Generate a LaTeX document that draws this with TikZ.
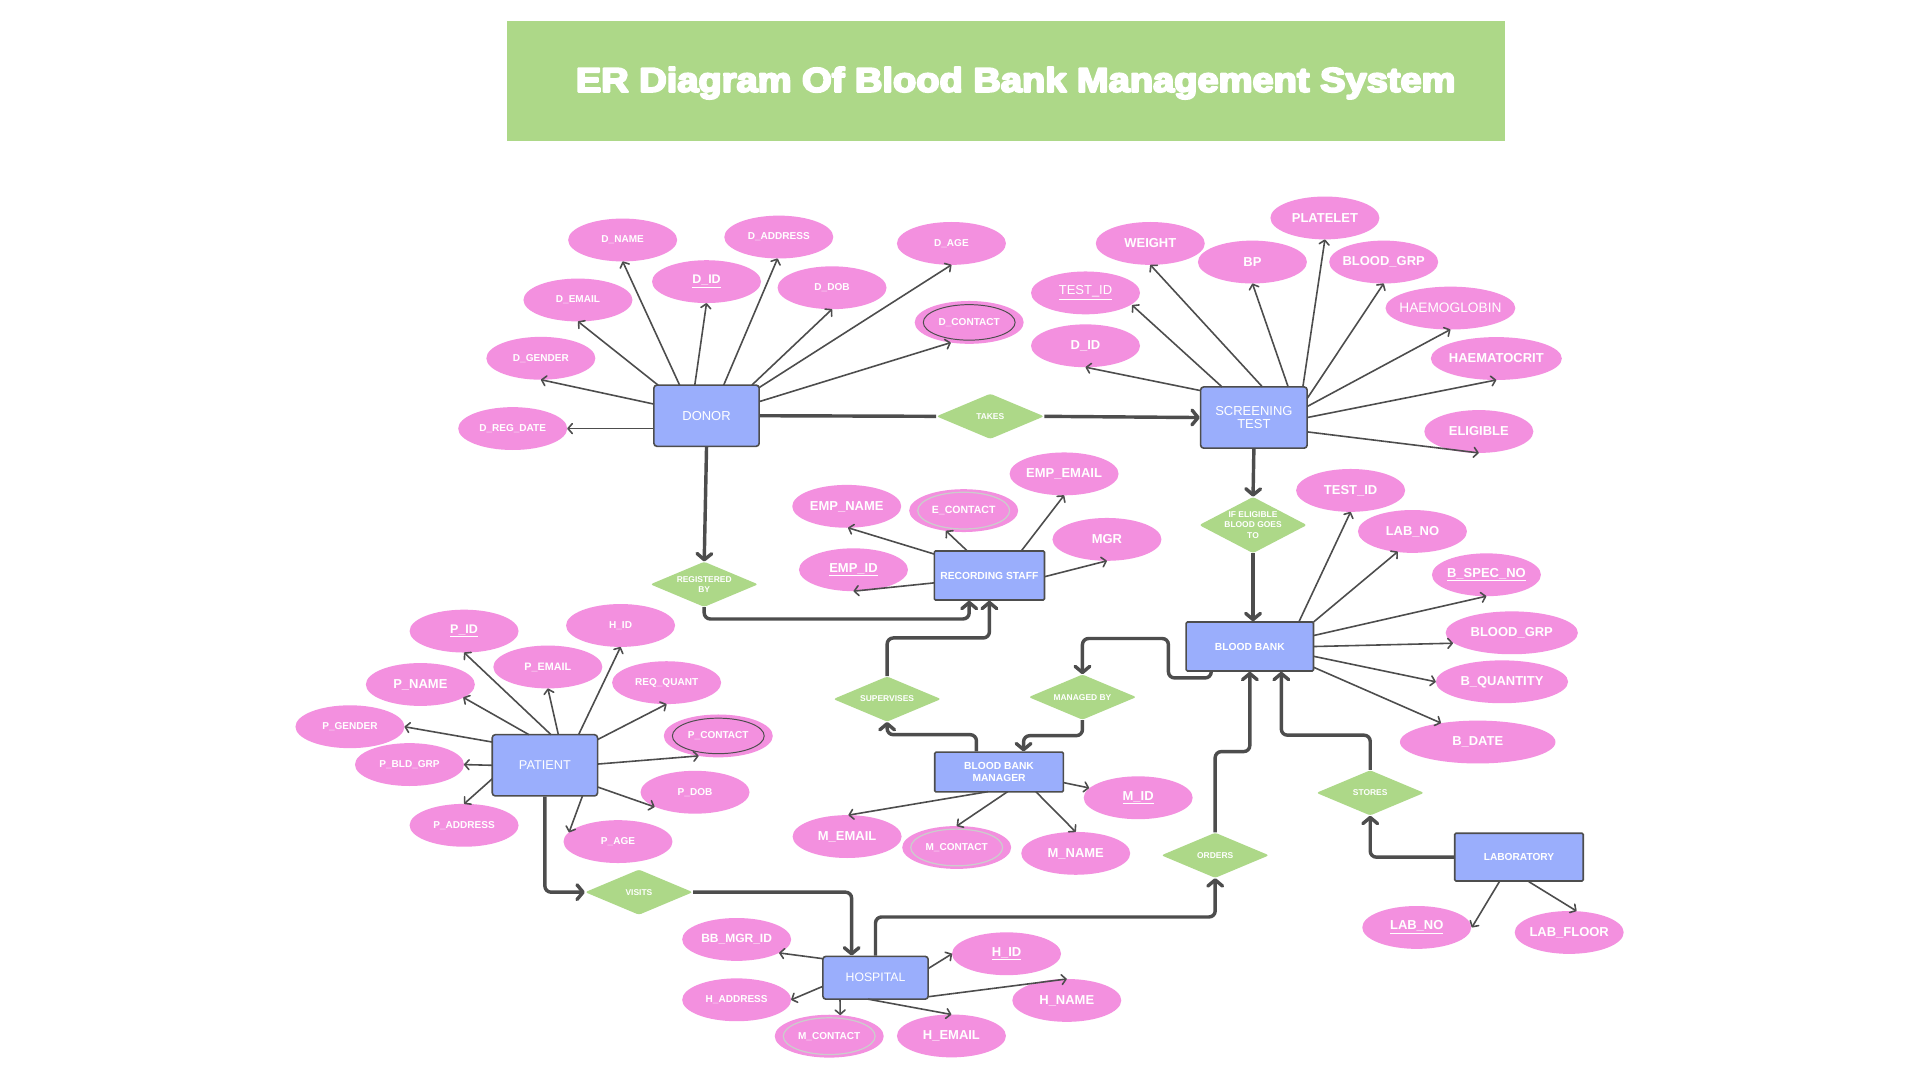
\documentclass[tikz,border=0pt]{standalone}
\usepackage{fontspec}
\setmainfont{Liberation Sans}
\usetikzlibrary{shapes.geometric,arrows.meta}
\definecolor{pinkc}{HTML}{F390DF}
\definecolor{bluec}{HTML}{9AAEFC}
\definecolor{greenc}{HTML}{ADD888}
\definecolor{linec}{HTML}{4D4D4D}
\newcommand\fsz[1]{\fontsize{#1}{#1}\selectfont}
\newcommand\heavy[1]{\special{pdf:literal direct 2 Tr 1.6 w 1 j}#1\special{pdf:literal direct 0 Tr}}
\tikzset{
  attr/.style={ellipse, fill=pinkc, text=white, minimum width=89pt, minimum height=35pt,
    inner xsep=-14pt, inner ysep=-10pt, font=\fsz{8.2}\bfseries},
  attrm/.style={attr, font=\fsz{10.6}\bfseries},
  ent/.style={rectangle, rounded corners=2.5pt, draw=linec, line width=1.3pt, fill=bluec,
    text=white, inner sep=0pt, align=center},
  rel/.style={diamond, aspect=2, rounded corners=2pt, fill=greenc, text=white, inner sep=-3pt, align=center,
    minimum width=88pt, minimum height=37pt, font=\fsz{6.9}\bfseries},
  attline/.style={draw=linec, line width=1.3pt, -{Straight Barb[length=3.5pt,width=8pt,round]}},
  relline/.style={draw=linec, line width=2.8pt, rounded corners=5pt},
  relarrow/.style={relline, -{Straight Barb[length=5pt,width=12pt,round]}},
  darkin/.style={draw=linec, line width=0.8pt},
  lightin/.style={draw=black!20, line width=1pt}
}
\newcommand\att[6]{\draw[attline] ([shift={(#2,#3)}]#1.center) -- ([shift={(#5,#6)}]#4.center);}
\begin{document}
\begin{tikzpicture}[x=1pt,y=-1pt]
\useasboundingbox (0,0) rectangle (1568,882);
\fill[white] (0,0) rectangle (1568,882);

% title
\node[fill=greenc, minimum width=815pt, minimum height=98pt, inner sep=0pt] (titlebox) at (821.5,66) {};
\node[anchor=base, text=white, inner sep=0pt, font=\bfseries\fsz{28}] (title) at (829.5,75)
  {\scalebox{1.11}[1]{\heavy{ER Diagram Of Blood Bank Management System}}};

% entities
\node[ent, minimum width=86pt, minimum height=50pt, font=\fsz{10.6}] (donor) at (577,339.5) {DONOR};
\node[ent, minimum width=87pt, minimum height=50pt, font=\fsz{10.6}] (screen) at (1024,341) {SCREENING\\[0.8pt]TEST};
\node[ent, rounded corners=1pt, minimum width=90pt, minimum height=40pt, font=\fsz{8.4}\bfseries] (rstaff) at (808,470) {RECORDING STAFF};
\node[ent, rounded corners=1pt, minimum width=104pt, minimum height=40pt, font=\fsz{8.4}\bfseries] (bbank) at (1020.7,528) {BLOOD BANK};
\node[ent, minimum width=86pt, minimum height=50pt, font=\fsz{10.4}] (patient) at (445,625) {PATIENT};
\node[ent, rounded corners=1pt, minimum width=105pt, minimum height=32.5pt, font=\fsz{8.4}\bfseries] (bbm) at (815.9,630.5) {BLOOD BANK\\[1.4pt]MANAGER};
\node[ent, rounded corners=1pt, minimum width=105pt, minimum height=39pt, font=\fsz{8.3}\bfseries] (lab) at (1240.5,700) {LABORATORY};
\node[ent, minimum width=86pt, minimum height=35pt, font=\fsz{10}] (hosp) at (715,798.5) {HOSPITAL};

% relationships
\node[rel] (takes) at (808.7,340) {TAKES};
\node[rel, minimum height=46pt, font=\fsz{6.9}\bfseries] (ifel) at (1023.3,428.8) {IF ELIGIBLE\\[1.5pt]BLOOD GOES\\[1.5pt]TO};
\node[rel] (regby) at (575.1,477.2) {REGISTERED\\[1.3pt]BY};
\node[rel] (superv) at (724.5,570.9) {SUPERVISES};
\node[rel] (managed) at (884,569.3) {MANAGED BY};
\node[rel] (stores) at (1119,647.5) {STORES};
\node[rel] (orders) at (992.4,698.5) {ORDERS};
\node[rel] (visits) at (521.8,728.6) {VISITS};

% donor attributes
\node[attr] (dname) at (508.5,196) {D\_NAME};
\node[attr] (daddr) at (636,193.6) {D\_ADDRESS};
\node[attr] (dage) at (777,198.8) {D\_AGE};
\node[attrm, font=\fsz{10.2}\bfseries] (did) at (577,230) {\underline{D\_ID}};
\node[attr] (ddob) at (679.5,235) {D\_DOB};
\node[attr] (demail) at (472,245) {D\_EMAIL};
\node[attr] (dcontact) at (791.5,263.3) {D\_CONTACT};
\node[attr] (dgender) at (441.7,292.6) {D\_GENDER};
\node[attr] (dregdate) at (418.7,350) {D\_REG\_DATE};
\draw[darkin] (dcontact.center) ellipse [x radius=37.5, y radius=14.5];

% screening attributes
\node[attrm] (weight) at (939.4,198.8) {WEIGHT};
\node[attrm] (platelet) at (1082,178) {PLATELET};
\node[attrm] (bp) at (1022.8,214) {BP};
\node[attrm] (sbgrp) at (1130,214) {BLOOD\_GRP};
\node[attrm, font=\fsz{10.6}] (stestid) at (886.5,239.2) {\underline{TEST\_ID}};
\node[attrm, minimum width=106pt, font=\fsz{11.2}] (haemo) at (1184.5,251.6) {HAEMOGLOBIN};
\node[attrm] (sdid) at (886.5,282.4) {D\_ID};
\node[attrm, minimum width=107pt] (haemat) at (1222,292.8) {HAEMATOCRIT};
\node[attrm] (eligible) at (1207.7,352.4) {ELIGIBLE};

% recording staff attributes
\node[attrm] (empname) at (691.5,413.5) {EMP\_NAME};
\node[attr, font=\fsz{8.6}\bfseries] (econtact) at (787,417) {E\_CONTACT};
\node[attrm] (empemail) at (869,387) {EMP\_EMAIL};
\node[attrm] (mgr) at (904,440.5) {MGR};
\node[attrm] (empid) at (697,465.3) {\underline{EMP\_ID}};
\draw[lightin] (econtact.center) ellipse [x radius=37.5, y radius=15];

% blood bank attributes
\node[attrm] (btestid) at (1103,400.5) {TEST\_ID};
\node[attrm] (blabno) at (1153.5,434) {LAB\_NO};
\node[attrm] (bspec) at (1213.9,469.4) {\underline{B\_SPEC\_NO}};
\node[attrm, minimum width=108pt] (bbgrp) at (1234.6,516.8) {BLOOD\_GRP};
\node[attrm, minimum width=108pt] (bquant) at (1226.6,556.8) {B\_QUANTITY};
\node[attrm, minimum width=127pt] (bdate) at (1206.8,606) {B\_DATE};

% patient attributes
\node[attrm, font=\fsz{10.2}\bfseries] (pid) at (379,515.4) {\underline{P\_ID}};
\node[attr] (hid) at (506.8,510.8) {H\_ID};
\node[attr, font=\fsz{8.8}\bfseries] (pemail) at (447.4,544.7) {P\_EMAIL};
\node[attrm] (pname) at (343.3,559) {P\_NAME};
\node[attr] (reqq) at (544.4,557.5) {REQ\_QUANT};
\node[attr] (pgender) at (285.8,593.5) {P\_GENDER};
\node[attr] (pcontact) at (586.6,601) {P\_CONTACT};
\node[attr] (pbld) at (334.4,624.4) {P\_BLD\_GRP};
\node[attr] (pdob) at (567.6,647) {P\_DOB};
\node[attr] (paddr) at (379,674) {P\_ADDRESS};
\node[attr] (pag) at (504.7,687.3) {P\_AGE};
\draw[darkin] (pcontact.center) ellipse [x radius=37.5, y radius=14.5];

% manager attributes
\node[attrm] (mid) at (929.5,651.5) {\underline{M\_ID}};
\node[attrm] (memail) at (691.8,683.2) {M\_EMAIL};
\node[attr] (mcontact) at (781.3,692.1) {M\_CONTACT};
\node[attrm] (mname) at (878.5,696.9) {M\_NAME};
\draw[lightin] (mcontact.center) ellipse [x radius=37.5, y radius=15];

% laboratory attributes
\node[attrm] (labno) at (1157,757.4) {\underline{LAB\_NO}};
\node[attrm] (labfloor) at (1281.5,761.5) {LAB\_FLOOR};

% hospital attributes
\node[attrm, font=\fsz{9.8}\bfseries] (bbmgrid) at (601.6,767.2) {BB\_MGR\_ID};
\node[attr] (haddr) at (601.6,816.5) {H\_ADDRESS};
\node[attr] (hmcontact) at (677.2,846.2) {M\_CONTACT};
\node[attrm] (hemail) at (777,846) {H\_EMAIL};
\node[attrm] (hhid) at (822,778.9) {\underline{H\_ID}};
\node[attrm] (hname) at (871.2,817) {H\_NAME};
\draw[lightin] (hmcontact.center) ellipse [x radius=37.5, y radius=15];

% attribute connectors
\att{donor}{-22}{-25}{dname}{0}{17.5}
\att{donor}{-39.6}{-25}{demail}{0}{17.5}
\att{donor}{-9.6}{-25}{did}{0}{17.5}
\att{donor}{14}{-25}{daddr}{-1}{17.5}
\att{donor}{37}{-25}{ddob}{0}{17.5}
\att{donor}{43}{-23}{dage}{0}{17.5}
\att{donor}{43}{-11.5}{dcontact}{-15}{16.5}
\att{donor}{-43}{-9.5}{dgender}{0}{17.5}
\att{donor}{-43}{10.5}{dregdate}{44.5}{0}

\att{screen}{-43.5}{-22}{sdid}{0}{17.5}
\att{screen}{-26}{-25}{stestid}{38}{10}
\att{screen}{7}{-25}{weight}{0}{17.5}
\att{screen}{28}{-25}{bp}{0}{17.5}
\att{screen}{40}{-25}{platelet}{0}{17.5}
\att{screen}{43.5}{-15.5}{sbgrp}{0}{17.5}
\att{screen}{43.5}{-9}{haemo}{0}{17.5}
\att{screen}{43.5}{0}{haemat}{0}{17.5}
\att{screen}{43.5}{11.7}{eligible}{0}{17.5}

\att{rstaff}{-45}{-17.5}{empname}{1}{17.5}
\att{rstaff}{-18}{-20}{econtact}{-14.5}{16.5}
\att{rstaff}{26}{-20}{empemail}{0}{17.5}
\att{rstaff}{45}{1}{mgr}{0}{17.5}
\att{rstaff}{-45}{6}{empid}{0}{17.5}

\att{bbank}{40}{-20}{btestid}{0}{17.5}
\att{bbank}{52}{-20}{blabno}{-12}{16.5}
\att{bbank}{52.2}{-9}{bspec}{0}{17.5}
\att{bbank}{52.2}{0}{bbgrp}{-48}{8.5}
\att{bbank}{52.2}{8}{bquant}{-54}{0}
\att{bbank}{52.2}{17}{bdate}{-30}{-15.5}

\att{patient}{5}{-25}{pid}{0}{17.5}
\att{patient}{-13}{-25}{pname}{35}{10.5}
\att{patient}{11}{-25}{pemail}{0}{17.5}
\att{patient}{27.5}{-25}{hid}{0}{17.5}
\att{patient}{43}{-21}{reqq}{0}{17.5}
\att{patient}{-43}{-19}{pgender}{44.5}{0}
\att{patient}{43}{-1}{pcontact}{-16}{16.3}
\att{patient}{-43}{0}{pbld}{44.5}{0}
\att{patient}{43}{17.7}{pdob}{-33}{12}
\att{patient}{-43}{11}{paddr}{0}{-17.5}
\att{patient}{30.7}{25}{pag}{-40}{-7.5}

\att{bbm}{52.5}{8.6}{mid}{-40}{-8}
\att{bbm}{-9}{16}{memail}{1}{-17.5}
\att{bbm}{7}{16}{mcontact}{0}{-17.5}
\att{bbm}{30}{16}{mname}{0}{-17.5}

\att{lab}{-16}{20}{labno}{45}{0}
\att{lab}{8}{20}{labfloor}{6}{-17.5}

\att{hosp}{-43}{-15.6}{bbmgrid}{34.6}{11}
\att{hosp}{-43}{7}{haddr}{44.5}{0}
\att{hosp}{-29}{17.5}{hmcontact}{9}{-17.2}
\att{hosp}{-6}{17.5}{hemail}{0}{-17.5}
\att{hosp}{43}{-7.5}{hhid}{-44.5}{0}
\att{hosp}{43}{15.5}{hname}{0}{-17.5}

% relationship connectors
\draw[relline] (donor.east) -- (takes.west);
\draw[relarrow] (takes.east) -- (screen.west);
\draw[relarrow] (screen.south) -- (ifel.north);
\draw[relarrow] (ifel.south) -- (ifel.south |- bbank.north);
\draw[relarrow] (donor.south) -- (regby.north);
\draw[relarrow] (regby.south) -- ++(0,9.6) -| ([xshift=-16.5pt]rstaff.south);
\draw[relarrow] (superv.north) -- ++(0,-31.2) -| (rstaff.south);
\draw[relarrow] ([xshift=-18.5pt]bbm.north) -- ++(0,-13.6) -| (superv.south);
\draw[relarrow] (managed.south) -- ++(0,12.8) -| ([xshift=20pt]bbm.north);
\draw[relarrow] ([xshift=-31.5pt]bbank.south) -- ++(0,5) -- ++(-35,0) -- ++(0,-32.2) -| (managed.north);
\draw[relarrow] (patient.south) |- (visits.west);
\draw[relarrow] (visits.east) -| ([xshift=-19.5pt]hosp.north);
\draw[relarrow] (hosp.north) -- ++(0,-31.5) -| (orders.south);
\draw[relarrow] (orders.north) -- ++(0,-66) -| (bbank.south);
\draw[relarrow] (lab.west) -| (stores.south);
\draw[relarrow] (stores.north) -- ++(0,-28.4) -| ([xshift=25.7pt]bbank.south);
\end{tikzpicture}
\end{document}
